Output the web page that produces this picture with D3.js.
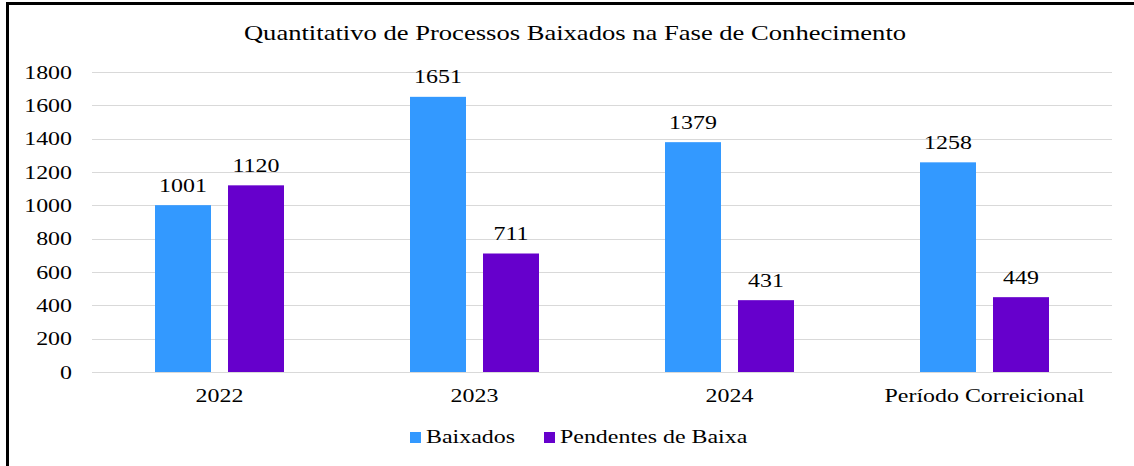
<!DOCTYPE html>
<html>
<head>
<meta charset="utf-8">
<script src="https://cdn.jsdelivr.net/npm/d3@7"></script>
<style>
  body { margin: 0; background: #fff; }
  .grid line { stroke: #d9d9d9; stroke-width: 1; }
</style>
</head>
<body>
<svg id="chart" width="1134" height="466"></svg>
<script>
var categories = ["2022", "2023", "2024", "Período Correicional"];
var seriesNames = ["Baixados", "Pendentes de Baixa"];
var baixados = [1001, 1651, 1379, 1258];
var pendentes = [1120, 711, 431, 449];
var yTicks = [0, 200, 400, 600, 800, 1000, 1200, 1400, 1600, 1800];
var chartTitle = "Quantitativo de Processos Baixados na Fase de Conhecimento";

var colors = ["#3399ff", "#6600cc"];
var fontFamily = "'Liberation Serif', 'Times New Roman', serif";
var stretch = 1.33; // glyphs in the picture are wider than normal

var svg = d3.select("#chart"),
    width = +svg.attr("width"),
    height = +svg.attr("height"),
    margin = {top: 72, right: 22, bottom: 94, left: 92};

// outer frame, only the left and top edges show
svg.append("rect")
    .attr("x", 7.5).attr("y", 3.5)
    .attr("width", 1300).attr("height", 700)
    .attr("fill", "none")
    .attr("stroke", "#000")
    .attr("stroke-width", 3);

var rows = categories.map(function(c, i) {
    return {cat: c, values: [baixados[i], pendentes[i]]};
});

var x0 = d3.scaleBand()
    .domain(categories)
    .range([margin.left, width - margin.right])
    .padding(0);

var x1 = d3.scaleBand()
    .domain(seriesNames)
    .range([0, x0.bandwidth()])
    .paddingInner(0.233)
    .paddingOuter(0.863);

var y = d3.scaleLinear()
    .domain([0, 1800])
    .range([height - margin.bottom, margin.top]);

// helper: place a text with horizontal stretch
function stext(sel, tx, ty, anchor, size, str) {
    return sel.append("text")
        .attr("transform", "translate(" + tx + "," + ty + ") scale(" + stretch + ",1)")
        .attr("text-anchor", anchor)
        .attr("font-family", fontFamily)
        .attr("font-size", size)
        .attr("fill", "#000")
        .text(str);
}

// gridlines
svg.append("g")
    .attr("class", "grid")
    .selectAll("line")
    .data(yTicks)
    .enter().append("line")
    .attr("x1", margin.left)
    .attr("x2", width - margin.right)
    .attr("y1", function(d) { return Math.round(y(d)) + 0.5; })
    .attr("y2", function(d) { return Math.round(y(d)) + 0.5; });

// y axis labels
var yAxis = svg.append("g");
yTicks.forEach(function(t) {
    stext(yAxis, margin.left - 20, y(t) + 6.5, "end", 18, t);
});

// bars
var group = svg.selectAll(".cat")
    .data(rows)
    .enter().append("g")
    .attr("class", "cat")
    .attr("transform", function(d) { return "translate(" + x0(d.cat) + ",0)"; });

group.selectAll("rect")
    .data(function(d) {
        return d.values.map(function(v, i) { return {name: seriesNames[i], value: v, i: i}; });
    })
    .enter().append("rect")
    .attr("x", function(d) { return x1(d.name); })
    .attr("y", function(d) { return y(d.value); })
    .attr("width", x1.bandwidth())
    .attr("height", function(d) { return y(0) - y(d.value); })
    .attr("fill", function(d) { return colors[d.i]; });

// value labels
group.each(function(d) {
    var g = d3.select(this);
    d.values.forEach(function(v, i) {
        stext(g, x1(seriesNames[i]) + x1.bandwidth() / 2, y(v) - 13.5, "middle", 18, v);
    });
});

// category labels
categories.forEach(function(c) {
    stext(svg, x0(c) + x0.bandwidth() / 2, y(0) + 30, "middle", 18, c);
});

// title
stext(svg, 575, 40, "middle", 20, chartTitle);

// legend
var legend = svg.append("g");
var legendX = [410, 544];
seriesNames.forEach(function(s, i) {
    legend.append("rect")
        .attr("x", legendX[i])
        .attr("y", 432)
        .attr("width", 11)
        .attr("height", 11)
        .attr("fill", colors[i]);
    stext(legend, legendX[i] + 16, 443, "start", 18, s);
});
</script>
</body>
</html>
